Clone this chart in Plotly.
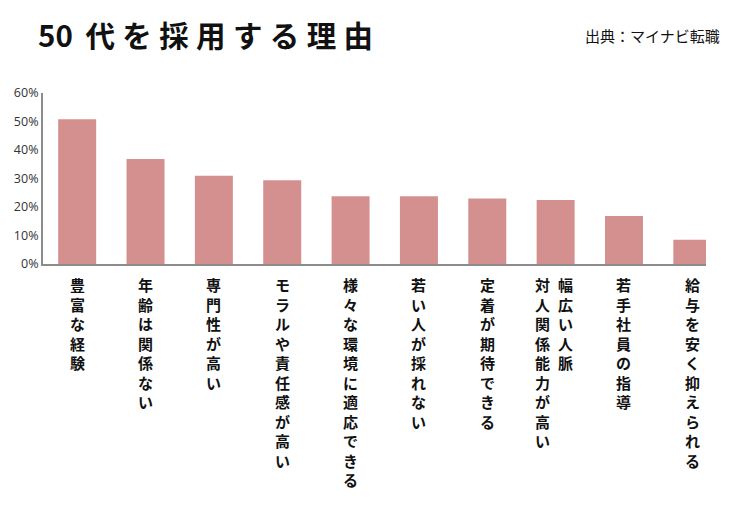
import plotly.graph_objects as go

categories = ["豊富な経験", "年齢は関係ない", "専門性が高い", "モラルや責任感が高い",
              "様々な環境に適応できる", "若い人が採れない", "定着が期待できる",
              "幅広い人脈 対人関係能力が高い", "若手社員の指導", "給与を安く抑えられる"]
values = [50.8, 36.8, 31.0, 29.4, 23.8, 23.8, 23.0, 22.5, 16.8, 8.5]
y_ticks = [0, 10, 20, 30, 40, 50, 60]
y_tick_labels = ["0%", "10%", "20%", "30%", "40%", "50%", "60%"]
title_text = "50 代を採用する理由"
source_text = "出典：マイナビ転職"

CJK = "Noto Sans CJK JP"

# figure is placed at (8, 8) in the page (body margin)
W, H = 726, 500
L, R, T, B = 35, 28, 85, 244
pw, ph = W - L - R, H - T - B
COL_STEP = 23      # distance between label columns


def px_to_paper(px, py):
    return (px - L) / pw, 1 - (py - T) / ph


fig = go.Figure()
fig.add_trace(go.Bar(x=categories, y=values, marker=dict(color="#d4908f", line=dict(width=0)),
                     hoverinfo="skip"))

# vertical (tategaki) category labels, columns read right to left
annotations = []
for cat in categories:
    cols = cat.split(" ")
    n = len(cols)
    for ci, col in enumerate(cols):
        shift = (n - 1) / 2 * COL_STEP - ci * COL_STEP - (1.5 if n > 1 else 0)
        annotations.append(dict(
            x=cat, xref="x", y=0, yref="paper", yanchor="top", xanchor="center",
            yshift=-8, xshift=shift, showarrow=False, align="center",
            text="<br>".join(list(col)),
            font=dict(family=CJK, size=15, color="#111111", weight="bold"),
        ))

head, rest = title_text.split(" ")
spaced_title = head + " \u2009" + "\u2005".join(list(rest))
tx, ty = px_to_paper(28, 26)
annotations.append(dict(
    x=tx, xref="paper", y=ty, yref="paper", showarrow=False,
    xanchor="left", yanchor="middle", text=spaced_title,
    font=dict(family=CJK, size=29.5, color="#111111", weight="bold"),
))
sx, sy = px_to_paper(714, 27)
annotations.append(dict(
    x=sx, xref="paper", y=sy, yref="paper", showarrow=False,
    xanchor="right", yanchor="middle", text=source_text,
    font=dict(family=CJK, size=15, color="#111111"),
))

fig.update_layout(
    width=W, height=H,
    margin=dict(l=L, r=R, t=T, b=B, pad=0, autoexpand=False),
    paper_bgcolor="white", plot_bgcolor="white",
    bargap=0.444, showlegend=False,
    annotations=annotations,
    xaxis=dict(range=[-0.5, 9.2], showticklabels=False, ticks="", showline=True,
               linecolor="#8c8c8c", linewidth=2, showgrid=False, zeroline=False,
               fixedrange=True, automargin=False),
    yaxis=dict(range=[0, 60], tickmode="array", tickvals=y_ticks, ticktext=y_tick_labels,
               showline=True, linecolor="#8c8c8c", linewidth=2, showgrid=False,
               zeroline=False, ticks="", automargin=False,
               tickfont=dict(family="Open Sans", size=12.5, color="#333333"),
               fixedrange=True),
)

fig.write_html("out.html")
